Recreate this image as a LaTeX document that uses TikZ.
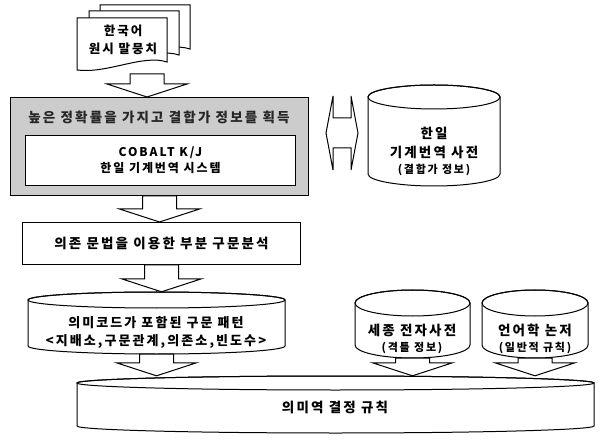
\documentclass[tikz,border=0pt]{standalone}
\usepackage{fontspec}
\setmainfont{Noto Sans CJK KR}[LetterSpace=16]
\usetikzlibrary{calc}
\newcommand\docpage[2]{%
  \filldraw[ln, fill=white] (#1,#2) -- ++(90,0) -- ++(0,44)
    .. controls ++(-24,-8) and ++(30,4) .. ++(-90,8) -- cycle;}
\newcommand\cyl[6]{% name, x1, y1, x2, y2, r
  \pgfmathsetmacro\cx{(#2+#4)/2}%
  \pgfmathsetmacro\rx{(#4-#2)/2}%
  \pgfmathsetmacro\ya{#3+#6}%
  \pgfmathsetmacro\yb{#5-#6}%
  \pgfmathsetmacro\ww{#4-#2}%
  \pgfmathsetmacro\hh{#5-#3}%
  \filldraw[ln, fill=white] (#2,\ya) -- (#2,\yb)
     arc[start angle=180, end angle=360, x radius=\rx pt, y radius=#6 pt]
     -- (#4,\ya) arc[start angle=0, end angle=180, x radius=\rx pt, y radius=#6 pt] -- cycle;
  \draw[ln] (\cx,\ya) ellipse[x radius=\rx pt, y radius=#6 pt];
  \node[inner sep=0pt, minimum width=\ww, minimum height=\hh] (#1) at (\cx,{(#3+#5)/2}) {};}
\newcommand\barrow[2]{%
  \draw[barr] let \p1=#1, \p2=#2 in
    (\x1-17pt,\y1) -- (\x1+17pt,\y1) -- (\x1+17pt,\y2+13pt) -- (\x1+40pt,\y2+13pt)
    -- (\x1,\y2) -- (\x1-40pt,\y2+13pt) -- (\x1-17pt,\y2+13pt) -- cycle;}
\begin{document}
\begin{tikzpicture}[x=1pt,y=-1pt,
  ln/.style={draw=black, line width=1pt},
  txt/.style={font=\fontsize{13.5}{17}\selectfont\bfseries, align=center, inner sep=0pt},
  stxt/.style={font=\fontsize{11}{13}\selectfont\bfseries, inner sep=0pt},
  barr/.style={draw=black, line width=1pt, fill=white, line join=miter}]
\useasboundingbox (0,0) rectangle (599,443);
% document stack
\docpage{100}{5}
\docpage{89}{11}
\docpage{77}{18}
\node[txt, font=\fontsize{12.5}{18}\selectfont\bfseries] (docs) at (123,40) {한국어\\원시 말뭉치};
\coordinate (a1s) at (147,74);
% system box
\node[ln, fill=gray!40, minimum width=298, minimum height=98, anchor=north west, inner sep=0pt] (sys) at (10,97) {};
\node[txt, text=black!85] (hdr) at (159,117) {높은 정확률을 가지고 결합가 정보를 획득};
\node[ln, fill=white, minimum width=270, minimum height=50, anchor=north west, inner sep=0pt] (inner) at (25,135) {};
\node[txt, font=\fontsize{12}{16}\selectfont\bfseries] (innert) at (inner.center) {COBALT K/J\\한일 기계번역 시스템};
% dictionary cylinder
\cyl{dict}{368}{85}{500}{186}{12}
\node[txt, font=\fontsize{13.5}{19}\selectfont\bfseries] (dictt) at (434,143) {한일\\기계번역 사전};
\node[stxt] (dictp) at (434,170) {(결합가 정보)};
% double arrow
\coordinate (dl) at (326,133);
\coordinate (dr) at (358,133);
\draw[barr] (dl) -- ++(7,-37) -- ++(0,22) -- ++(18,0) -- ++(0,-22) -- (dr)
   -- ++(-7,37) -- ++(0,-22) -- ++(-18,0) -- ++(0,22) -- cycle;
% dependency box
\node[ln, minimum width=278, minimum height=42, anchor=north west, inner sep=0pt] (dep) at (22,222) {};
\node[txt] (dept) at (dep.center) {의존 문법을 이용한 부분 구문분석};
% pattern cylinder
\cyl{pat}{28}{292}{285}{354}{8}
\node[txt, font=\fontsize{13}{18}\selectfont\bfseries] (patt) at (156,332) {의미코드가 포함된 구문 패턴\\<지배소,구문관계,의존소,빈도수>};
% sejong & linguistics
\cyl{sej}{355}{290}{470}{358}{13}
\node[txt] (sejt) at (412,330) {세종 전자사전};
\node[stxt] (sejp) at (412,348) {(격틀 정보)};
\cyl{lin}{482}{290}{588}{358}{13}
\node[txt] (lint) at (535,330) {언어학 논저};
\node[stxt] (linp) at (535,348) {(일반적 규칙)};
% rule cylinder
\cyl{rule}{77}{376}{594}{433}{7}
\node[txt] (rulet) at (335,407) {의미역 결정 규칙};
% block arrows
\barrow{(a1s)}{(sys.north)}
\barrow{(sys.south)}{(dep.north)}
\barrow{(dep.south)}{(pat.north)}
\barrow{(pat.south)}{(rule.north)}
\barrow{(sej.south)}{(rule.north)}
\barrow{(lin.south)}{(rule.north)}
\end{tikzpicture}
\end{document}
